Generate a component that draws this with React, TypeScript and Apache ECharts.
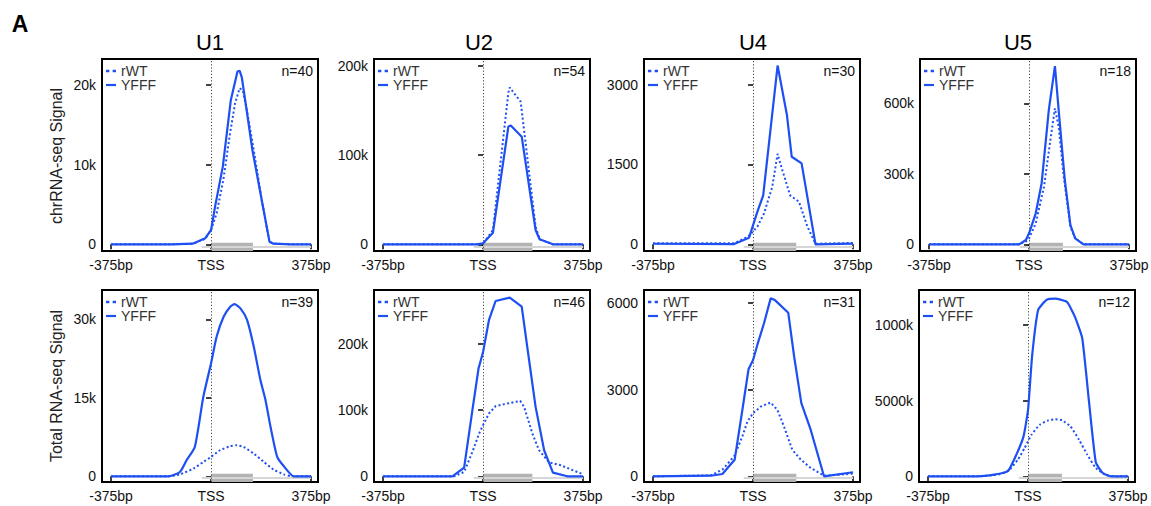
import React, { useEffect, useRef } from "react";
import * as echarts from "echarts";

// ---------- data (bp from TSS, signal) ----------
const xTickValues = [-375, 0, 375];
const xTickLabels = ["-375bp", "TSS", "375bp"];
const genes = ["U1", "U2", "U4", "U5"];
const geneLengths = [157, 185, 162, 127];
const geneLineStart = -35;
const geneLineEnd = 375;
const nChr = [40, 54, 30, 18];
const nTotal = [39, 46, 31, 12];

const U1_chr_YFFF = [[-375, 0], [-150, 0], [-69, 80], [-22, 750], [0, 1800], [15, 4730], [44, 9750], [74, 18100], [99, 21700], [107, 21800], [115, 21000], [128, 18100], [155, 11840], [190, 5560], [219, 330], [234, 80], [300, 0], [375, 0]];
const U1_chr_rWT = [[-375, 0], [-150, 0], [-69, 60], [-22, 700], [0, 1800], [21, 3900], [46, 8080], [71, 13900], [90, 17700], [107, 19600], [119, 19300], [134, 16900], [159, 12050], [190, 5560], [219, 330], [234, 80], [300, 0], [375, 0]];

const U2_chr_YFFF = [[-375, 0], [-25, 0], [0, 1100], [37, 13000], [95, 132000], [104, 133000], [145, 120500], [197, 16000], [212, 5600], [262, 0], [375, 0]];
const U2_chr_rWT = [[-375, 0], [-25, 0], [0, 500], [37, 16000], [95, 170000], [100, 175700], [122, 167000], [141, 159700], [197, 19800], [212, 5600], [262, 0], [375, 0]];

const U4_chr_YFFF = [[-375, 10], [-71, 5], [-15, 125], [16, 610], [38, 920], [92, 3360], [127, 2430], [145, 1645], [182, 1520], [234, 0], [375, 12]];
const U4_chr_rWT = [[-375, 20], [-71, 20], [-19, 140], [16, 330], [41, 580], [72, 1080], [92, 1700], [110, 1390], [139, 920], [172, 800], [204, 330], [234, 10], [375, 25]];

const U5_chr_YFFF = [[-375, 0], [-37, 0], [-12, 18400], [0, 46800], [25, 132000], [47, 259000], [74, 571000], [97, 758600], [111, 571000], [134, 273700], [155, 82000], [173, 25500], [204, 0], [375, 0]];
const U5_chr_rWT = [[-375, 0], [-37, 0], [-12, 12000], [0, 25000], [25, 89000], [56, 245000], [80, 444000], [97, 578500], [111, 500000], [130, 288000], [155, 75000], [173, 25500], [204, 0], [375, 0]];

const U1_tot_YFFF = [[-375, 0], [-161, 0], [-117, 830], [-92, 3060], [-61, 5600], [-29, 15200], [0, 21600], [21, 26700], [47, 30500], [72, 32400], [88, 32900], [110, 32100], [135, 29900], [160, 24800], [185, 18400], [204, 14600], [223, 9450], [248, 3700], [270, 2100], [310, 0], [375, 0]];
const U1_tot_rWT = [[-375, 0], [-161, 0], [-117, 380], [-66, 1470], [-29, 2740], [0, 3700], [34, 5000], [72, 5750], [94, 5940], [122, 5600], [160, 4340], [198, 2740], [235, 1280], [273, 380], [298, 60], [375, 0]];

const U2_tot_YFFF = [[-375, 0], [-115, 0], [-71, 13100], [-40, 100000], [-17, 163000], [0, 188000], [22, 236000], [47, 265000], [100, 270000], [145, 256500], [169, 186000], [197, 105000], [229, 39400], [262, 5600], [316, 0], [375, 0]];
const U2_tot_rWT = [[-375, 0], [-109, 0], [-71, 6600], [-40, 36900], [-15, 64600], [0, 77300], [22, 95000], [47, 106000], [91, 110000], [139, 114000], [154, 105000], [185, 64600], [210, 39400], [247, 21200], [291, 16700], [375, 3000]];

const U4_tot_YFFF = [[-375, 0], [-159, 20], [-115, 80], [-69, 575], [-40, 2300], [-17, 3700], [0, 4020], [16, 4540], [41, 5290], [66, 6150], [82, 6090], [132, 5650], [154, 4140], [181, 2530], [216, 1610], [266, 0], [375, 140]];
const U4_tot_rWT = [[-375, 0], [-159, 30], [-115, 230], [-71, 690], [-40, 1380], [-21, 1900], [0, 2180], [29, 2410], [66, 2550], [91, 2300], [116, 1720], [147, 920], [179, 575], [216, 290], [266, 20], [375, 90]];

const U5_tot_YFFF = [[-375, 0], [-190, 0], [-127, 11000], [-76, 33000], [-44, 143000], [-17, 264000], [0, 440000], [15, 793000], [38, 1101000], [70, 1167000], [102, 1174000], [146, 1152000], [175, 1057000], [203, 914000], [229, 485000], [254, 92500], [280, 22000], [311, 0], [375, 0]];
const U5_tot_rWT = [[-375, 0], [-190, 0], [-102, 15000], [-70, 44000], [-38, 110000], [-13, 187000], [13, 275000], [44, 341000], [76, 370000], [102, 377000], [127, 370000], [159, 330000], [191, 242000], [222, 143000], [254, 55000], [292, 9000], [330, 0], [375, 0]];

const yTicksChr = [[0, 10000, 20000], [0, 100000, 200000], [0, 1500, 3000], [0, 300000, 600000]];
const yLabelsChr = [["0", "10k", "20k"], ["0", "100k", "200k"], ["0", "1500", "3000"], ["0", "300k", "600k"]];
const yTicksTot = [[0, 15000, 30000], [0, 100000, 200000], [0, 3000, 6000], [0, 500000, 1000000]];
const yLabelsTot = [["0", "15k", "30k"], ["0", "100k", "200k"], ["0", "3000", "6000"], ["0", "5000k", "1000k"]];
const yRangeChr = [[-841, 23264], [-7503, 207503], [-126, 3483], [-28511, 788511]];
const yRangeTot = [[-1089, 35599], [-8617, 281633], [-197, 6439], [-37673, 1231328]];

const chrRWT = [U1_chr_rWT, U2_chr_rWT, U4_chr_rWT, U5_chr_rWT];
const chrYFFF = [U1_chr_YFFF, U2_chr_YFFF, U4_chr_YFFF, U5_chr_YFFF];
const totRWT = [U1_tot_rWT, U2_tot_rWT, U4_tot_rWT, U5_tot_rWT];
const totYFFF = [U1_tot_YFFF, U2_tot_YFFF, U4_tot_YFFF, U5_tot_YFFF];

// ---------- layout / style ----------
const FONT = '"Liberation Sans", Arial, Helvetica, sans-serif';
const BLUE = "#1d4ff2";
const X_MIN = -409;
const X_MAX = 401;
const GRID_W = 216;
const GRID_H = 192;
const colLeftTop = [102, 374, 644, 920];
const colLeftBot = [102, 374, 644, 919];
const rowTop = [59, 290];
const titleX = [210, 479, 753, 1018];
const smoothChr = [0, 0, 0, 0];
const smoothTot = [0.2, 0, 0, 0.15];
const DOT_ICON = "path://M0,0h3v2.4h-3z M6,0h3v2.4h-3z";
const LINE_ICON = "path://M0,0h10v2.2h-10z";

export default function App() {
  const ref = useRef<HTMLDivElement>(null);

  useEffect(() => {
    if (!ref.current) return;
    const chart = echarts.init(ref.current, null, { renderer: "svg" });

    const panels: any[] = [];
    for (let r = 0; r < 2; r++) {
      for (let c = 0; c < 4; c++) {
        panels.push({
          left: r === 0 ? colLeftTop[c] : colLeftBot[c],
          top: rowTop[r],
          rwt: r === 0 ? chrRWT[c] : totRWT[c],
          yfff: r === 0 ? chrYFFF[c] : totYFFF[c],
          ticks: r === 0 ? yTicksChr[c] : yTicksTot[c],
          labels: r === 0 ? yLabelsChr[c] : yLabelsTot[c],
          range: r === 0 ? yRangeChr[c] : yRangeTot[c],
          n: r === 0 ? nChr[c] : nTotal[c],
          smooth: r === 0 ? smoothChr[c] : smoothTot[c],
          len: geneLengths[c],
        });
      }
    }

    const grid = panels.map((p) => ({
      left: p.left,
      top: p.top,
      width: GRID_W,
      height: GRID_H,
      show: true,
      borderColor: "#000",
      borderWidth: 2,
      backgroundColor: "transparent",
      containLabel: false,
      outerBoundsMode: "none",
    }));

    const xAxis = panels.map((p, i) => ({
      type: "value",
      gridIndex: i,
      min: X_MIN,
      max: X_MAX,
      axisLine: { show: false },
      splitLine: { show: false },
      axisTick: {
        show: true,
        length: 5,
        customValues: xTickValues,
        lineStyle: { color: "#000", width: 1.5 },
      },
      axisLabel: {
        customValues: xTickValues,
        formatter: (v: number) => xTickLabels[xTickValues.indexOf(v)] ?? "",
        margin: 7,
        fontSize: 14,
        color: "#111",
        fontFamily: FONT,
      },
    }));

    const yAxis = panels.map((p, i) => ({
      type: "value",
      gridIndex: i,
      min: p.range[0],
      max: p.range[1],
      axisLine: { show: false },
      splitLine: { show: false },
      axisTick: {
        show: true,
        length: 5,
        customValues: p.ticks,
        lineStyle: { color: "#000", width: 1.5 },
      },
      axisLabel: {
        customValues: p.ticks,
        formatter: (v: number) => p.labels[p.ticks.indexOf(v)] ?? "",
        margin: 6,
        fontSize: 14,
        color: "#111",
        fontFamily: FONT,
      },
    }));

    const series: any[] = [];
    panels.forEach((p, i) => {
      const span = p.range[1] - p.range[0];
      const boxTop = p.range[0] + (span * 8.3) / GRID_H;
      const thinY = p.range[0] + (span * 4.3) / GRID_H;
      series.push({
        type: "line",
        name: "rWT",
        xAxisIndex: i,
        yAxisIndex: i,
        data: p.rwt,
        symbol: "none",
        showSymbol: false,
        smooth: p.smooth,
        z: 3,
        lineStyle: { color: BLUE, width: 2, type: [2, 2.4] },
        itemStyle: { color: BLUE },
        emphasis: { disabled: true },
        markArea: {
          silent: true,
          itemStyle: { color: "#b3b3b3" },
          data: [[{ xAxis: 0, yAxis: p.range[0] }, { xAxis: p.len, yAxis: boxTop }]],
        },
        markLine: {
          silent: true,
          symbol: ["none", "none"],
          label: { show: false },
          z: 1,
          data: [
            [
              { coord: [geneLineStart, thinY], lineStyle: { color: "#d6d6d6", width: 2, type: "solid" } },
              { coord: [geneLineEnd, thinY] },
            ],
            { xAxis: 0, lineStyle: { color: "#444", width: 1, type: [1.2, 2] } },
          ],
        },
      });
      series.push({
        type: "line",
        name: "YFFF",
        xAxisIndex: i,
        yAxisIndex: i,
        data: p.yfff,
        symbol: "none",
        showSymbol: false,
        smooth: p.smooth,
        z: 3,
        lineStyle: { color: BLUE, width: 2.2, type: "solid" },
        itemStyle: { color: BLUE },
        emphasis: { disabled: true },
      });
    });

    const legend = panels.map((p) => ({
      data: [
        { name: "rWT", icon: DOT_ICON, itemStyle: { color: BLUE } },
        { name: "YFFF", icon: LINE_ICON, itemStyle: { color: BLUE } },
      ],
      orient: "vertical",
      left: p.left + 4,
      top: p.top + 5,
      padding: 0,
      itemGap: 0,
      itemWidth: 10,
      itemHeight: 11,
      selectedMode: false,
      textStyle: { fontSize: 14, lineHeight: 11, color: "#333", fontFamily: FONT },
    }));

    const graphic: any[] = [
      {
        type: "text",
        x: 20,
        y: 24,
        style: { text: "A", fontSize: 23, fontWeight: "bold", fontFamily: FONT, fill: "#000", textAlign: "center", textVerticalAlign: "middle" },
      },
      {
        type: "text",
        x: 56,
        y: 156,
        rotation: Math.PI / 2,
        style: { text: "chrRNA-seq Signal", fontSize: 16, fontFamily: FONT, fill: "#222", textAlign: "center", textVerticalAlign: "middle" },
      },
      {
        type: "text",
        x: 56,
        y: 386,
        rotation: Math.PI / 2,
        style: { text: "Total RNA-seq Signal", fontSize: 16, fontFamily: FONT, fill: "#222", textAlign: "center", textVerticalAlign: "middle" },
      },
    ];
    genes.forEach((g, c) => {
      graphic.push({
        type: "text",
        x: titleX[c],
        y: 42.5,
        style: { text: g, fontSize: 22, fontFamily: FONT, fill: "#000", textAlign: "center", textVerticalAlign: "middle" },
      });
    });
    panels.forEach((p) => {
      graphic.push({
        type: "text",
        x: p.left + GRID_W - 5,
        y: p.top + 11.5,
        style: { text: "n=" + p.n, fontSize: 14, fontFamily: FONT, fill: "#111", textAlign: "right", textVerticalAlign: "middle" },
      });
    });

    chart.setOption({
      animation: false,
      backgroundColor: "#fff",
      textStyle: { fontFamily: FONT },
      grid,
      xAxis,
      yAxis,
      series,
      legend,
      graphic,
    });

    return () => chart.dispose();
  }, []);

  return (
    <div
      ref={ref}
      style={{ position: "absolute", left: 0, top: 0, width: 1151, height: 506 }}
    />
  );
}
